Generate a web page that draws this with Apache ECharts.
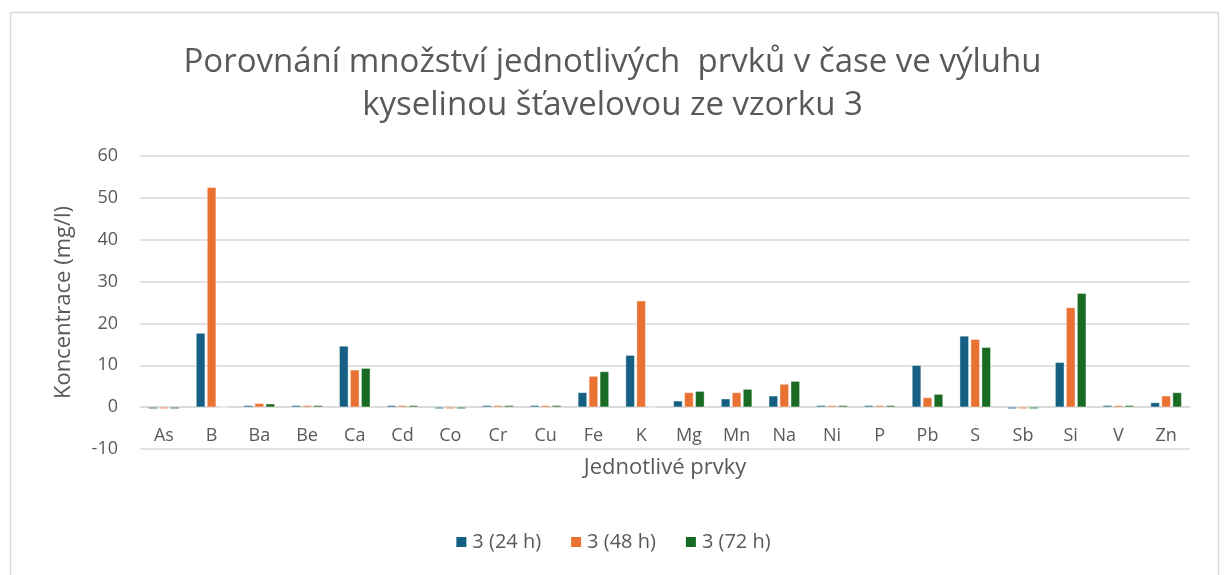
<!DOCTYPE html>
<html><head><meta charset="utf-8">
<script src="https://cdn.jsdelivr.net/npm/echarts@6/dist/echarts.min.js"></script>
<style>html,body{margin:0;padding:0;background:#fff}#c{width:1225px;height:575px}</style>
</head><body><div id="c"></div>
<script>
const categories = ['As','B','Ba','Be','Ca','Cd','Co','Cr','Cu','Fe','K','Mg','Mn','Na','Ni','P','Pb','S','Sb','Si','V','Zn'];
const s24 = [-0.4, 17.7, 0.4, 0.4, 14.6, 0.4, -0.4, 0.4, 0.4, 3.5, 12.4, 1.5, 2.0, 2.7, 0.4, 0.4, 10.0, 17.0, -0.4, 10.7, 0.4, 1.1];
const s48 = [-0.4, 52.5, 0.9, 0.4, 8.9, 0.4, -0.4, 0.4, 0.4, 7.4, 25.4, 3.5, 3.5, 5.5, 0.4, 0.4, 2.3, 16.2, -0.4, 23.8, 0.4, 2.7];
const s72 = [-0.4, 0, 0.8, 0.4, 9.3, 0.4, -0.4, 0.4, 0.4, 8.5, 0, 3.8, 4.3, 6.2, 0.4, 0.4, 3.1, 14.3, -0.4, 27.2, 0.4, 3.5];
const seriesNames = ['3 (24 h)','3 (48 h)','3 (72 h)'];
const yTicks = {min: -10, max: 60, interval: 10};

const FONT = '"Open Sans", Roboto, sans-serif';
const chart = echarts.init(document.getElementById('c'), null, {renderer: 'canvas'});
const colors = ['#156082', '#E97132', '#196B24'];
const mk = (name, data, i) => ({
  name, type: 'bar', data, barWidth: 9, barGap: '22%',
  itemStyle: {color: colors[i], borderColor: '#ffffff', borderWidth: 0.4},
  emphasis: {disabled: true}
});
const gridTop = 156, gridBottom = 126, gridH = 575 - gridTop - gridBottom;
const zeroOffset = gridH * (0 - yTicks.min) / (yTicks.max - yTicks.min);
chart.setOption({
  animation: false,
  textStyle: {fontFamily: FONT},
  graphic: [{type: 'rect', shape: {x: 10.5, y: 12.5, width: 1208, height: 600},
    style: {fill: 'none', stroke: '#d9d9d9', lineWidth: 1.5}, silent: true}],
  title: {
    text: 'Porovnání množství jednotlivých  prvků v čase ve výluhu\nkyselinou šťavelovou ze vzorku 3',
    left: 'center', top: 36,
    textStyle: {fontFamily: FONT, fontSize: 33, fontWeight: 'normal', color: '#595959', lineHeight: 43}
  },
  legend: {
    data: seriesNames, bottom: 18, left: 'center', itemWidth: 12, itemHeight: 12, itemGap: 28,
    icon: 'rect', textStyle: {fontFamily: FONT, fontSize: 20, color: '#595959'}
  },
  grid: {left: 140, right: 35, top: gridTop, bottom: gridBottom},
  xAxis: {
    type: 'category', data: categories, offset: -zeroOffset,
    name: 'Jednotlivé prvky', nameLocation: 'middle', nameGap: 50,
    nameTextStyle: {fontFamily: FONT, fontSize: 22, color: '#595959'},
    axisLine: {onZero: false, lineStyle: {color: '#d9d9d9', width: 1.5}},
    axisTick: {show: false},
    axisLabel: {fontFamily: FONT, fontSize: 18, color: '#595959', margin: 20, interval: 0}
  },
  yAxis: {
    type: 'value', min: yTicks.min, max: yTicks.max, interval: yTicks.interval,
    name: 'Koncentrace (mg/l)', nameLocation: 'middle', nameGap: 65,
    nameTextStyle: {fontFamily: FONT, fontSize: 22, color: '#595959'},
    axisLine: {show: false}, axisTick: {show: false},
    axisLabel: {fontFamily: FONT, fontSize: 18, color: '#595959', margin: 22},
    splitLine: {lineStyle: {color: '#d9d9d9', width: 1.5}}
  },
  series: [mk(seriesNames[0], s24, 0), mk(seriesNames[1], s48, 1), mk(seriesNames[2], s72, 2)]
});
</script></body></html>
